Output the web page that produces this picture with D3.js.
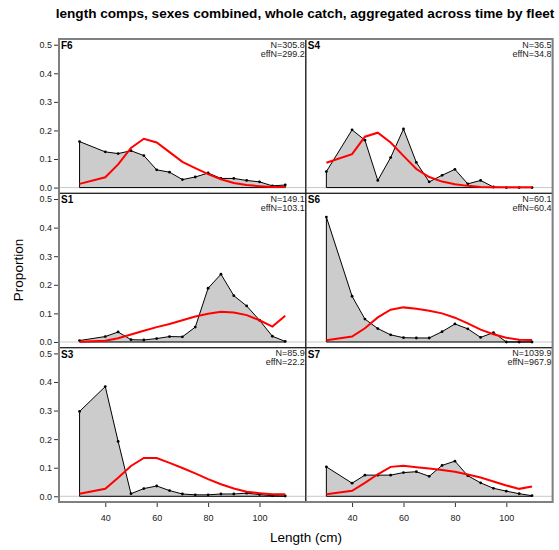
<!DOCTYPE html>
<html><head><meta charset="utf-8">
<script src="https://cdn.jsdelivr.net/npm/d3@7"></script>
<style>body{margin:0;background:#fff}svg{display:block}text{font-family:"Liberation Sans",Arial,sans-serif}</style>
</head><body>
<script>
const lengths = [30,40,45,50,55,60,65,70,75,80,85,90,95,100,105,110];
const fleets = ["F6","S4","S1","S6","S3","S7"];
const nLabels = ["N=305.8","N=36.5","N=149.1","N=60.1","N=85.9","N=1039.9"];
const effNLabels = ["effN=299.2","effN=34.8","effN=103.1","effN=60.4","effN=22.2","effN=967.9"];
const obsF6 = [0.161,0.125,0.119,0.129,0.112,0.062,0.054,0.028,0.037,0.051,0.032,0.032,0.025,0.020,0.006,0.009];
const expF6 = [0.013,0.036,0.081,0.139,0.171,0.158,0.124,0.090,0.068,0.047,0.029,0.016,0.009,0.005,0.002,0.002];
const obsS4 = [0.056,0.202,0.166,0.025,0.105,0.205,0.088,0.020,0.043,0.064,0.013,0.025,0.002,0,0,0];
const expS4 = [0.087,0.117,0.178,0.192,0.158,0.111,0.065,0.037,0.021,0.012,0.006,0.002,0.001,0.001,0.001,0.001];
const obsS1 = [0.005,0.019,0.035,0.008,0.007,0.012,0.019,0.018,0.052,0.188,0.237,0.162,0.126,0.076,0.020,0.002];
const expS1 = [0.001,0.004,0.013,0.026,0.039,0.052,0.063,0.076,0.089,0.099,0.106,0.103,0.094,0.076,0.054,0.092];
const obsS6 = [0.437,0.160,0.080,0.047,0.025,0.015,0.014,0.014,0.036,0.063,0.046,0.016,0.033,0,0,0];
const expS6 = [0.006,0.019,0.048,0.086,0.113,0.121,0.116,0.109,0.100,0.085,0.065,0.043,0.027,0.015,0.008,0.007];
const obsS3 = [0.297,0.384,0.192,0.009,0.027,0.036,0.020,0.008,0.005,0.005,0.008,0.008,0.011,0.006,0.002,0.001];
const expS3 = [0.009,0.026,0.065,0.106,0.134,0.134,0.117,0.099,0.080,0.060,0.042,0.027,0.016,0.011,0.007,0.007];
const obsS7 = [0.103,0.046,0.074,0.074,0.074,0.083,0.086,0.070,0.108,0.123,0.072,0.047,0.028,0.018,0.009,0.002];
const expS7 = [0.007,0.019,0.047,0.077,0.103,0.107,0.102,0.097,0.092,0.086,0.076,0.066,0.052,0.038,0.026,0.034];
const obsAll = [obsF6,obsS4,obsS1,obsS6,obsS3,obsS7];
const expAll = [expF6,expS4,expS1,expS6,expS3,expS7];
const yTicks = [0,0.1,0.2,0.3,0.4,0.5];
const xTicks = [40,60,80,100];

const W=559,H=550;
const svg=d3.select("body").append("svg").attr("width",W).attr("height",H);
const colX=[59,305.8,552.6];
const rowY=[39,193.3,347.7,502];

svg.append("text").attr("x",305).attr("y",18).attr("text-anchor","middle")
  .attr("font-weight","bold").attr("font-size",13.6).text("length comps, sexes combined, whole catch, aggregated across time by fleet");

fleets.forEach((f,i)=>{
  const c=i%2, r=Math.floor(i/2);
  const x=d3.scaleLinear().domain([22,118]).range([colX[c],colX[c+1]]);
  const y=d3.scaleLinear().domain([-0.02,0.52]).range([rowY[r+1],rowY[r]]);
  const g=svg.append("g");
  g.append("line").attr("x1",colX[c]).attr("x2",colX[c+1]).attr("y1",y(0)).attr("y2",y(0))
    .attr("stroke","#c8c8c8").attr("stroke-width",1);
  const obs=obsAll[i], ex=expAll[i];
  const poly=[[lengths[0],0]].concat(lengths.map((l,k)=>[l,obs[k]])).concat([[lengths[lengths.length-1],0]]);
  g.append("path").attr("d",d3.line().x(d=>x(d[0])).y(d=>y(d[1]))(poly)+"Z")
    .attr("fill","#cccccc").attr("stroke","#000").attr("stroke-width",1);
  g.selectAll("circle").data(lengths).join("circle")
    .attr("cx",(d)=>x(d)).attr("cy",(d,k)=>y(obs[k])).attr("r",1.4).attr("fill","#000");
  g.append("path").attr("d",d3.line().x((d)=>x(d)).y((d,k)=>y(ex[k]))(lengths))
    .attr("fill","none").attr("stroke","#ff0000").attr("stroke-width",2);
  g.append("rect").attr("x",colX[c]).attr("y",rowY[r]).attr("width",colX[c+1]-colX[c]).attr("height",rowY[r+1]-rowY[r])
    .attr("fill","none").attr("stroke","#222").attr("stroke-width",1);
  g.append("text").attr("x",colX[c]+2).attr("y",rowY[r]+10).attr("font-weight","bold").attr("font-size",10).text(f);
  g.append("text").attr("x",colX[c+1]-1).attr("y",rowY[r]+8.5).attr("text-anchor","end").attr("font-size",9).attr("fill","#222").text(nLabels[i]);
  g.append("text").attr("x",colX[c+1]-1).attr("y",rowY[r]+17.5).attr("text-anchor","end").attr("font-size",9).attr("fill","#222").text(effNLabels[i]);
  if(c===0){
    const ax=d3.axisLeft(y).tickValues(yTicks).tickFormat(d3.format(".1f")).tickSize(5).tickPadding(2);
    const a=svg.append("g").attr("transform",`translate(${colX[0]},0)`).call(ax);
    a.select(".domain").remove();
    a.selectAll("text").attr("font-size",9).attr("fill","#222").attr("font-family","Liberation Sans, Arial, sans-serif");
    a.selectAll("line").attr("stroke","#333");
  }
  if(r===2){
    const ax=d3.axisBottom(x).tickValues(xTicks).tickSize(5).tickPadding(8);
    const a=svg.append("g").attr("transform",`translate(0,${rowY[3]})`).call(ax);
    a.select(".domain").remove();
    a.selectAll("text").attr("font-size",9).attr("fill","#222").attr("font-family","Liberation Sans, Arial, sans-serif");
    a.selectAll("line").attr("stroke","#333");
  }
});
svg.append("rect").attr("x",colX[0]).attr("y",rowY[0]).attr("width",colX[2]-colX[0]).attr("height",rowY[3]-rowY[0])
  .attr("fill","none").attr("stroke","#808080").attr("stroke-width",2);
svg.append("text").attr("x",306).attr("y",542).attr("text-anchor","middle").attr("font-size",13.5).text("Length (cm)");
svg.append("text").attr("transform","translate(23,270) rotate(-90)").attr("text-anchor","middle").attr("font-size",13.5).text("Proportion");
</script>
</body></html>
